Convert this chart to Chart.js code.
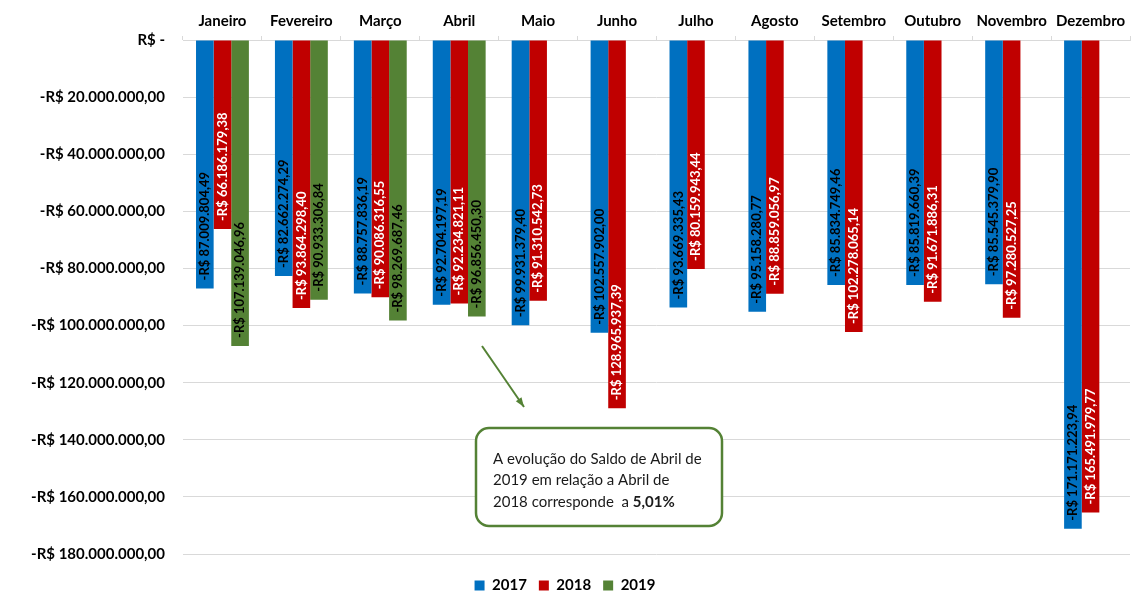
<!DOCTYPE html>
<html>
<head>
<meta charset="utf-8">
<script src="https://cdn.jsdelivr.net/npm/chart.js@4"></script>
<style>
  html, body { margin: 0; padding: 0; background: #fff; }
  #wrap { width: 1134px; height: 595px; }
</style>
</head>
<body>
<div id="wrap"><canvas id="chart" width="1134" height="595"></canvas></div>
<script>
const meses = ['Janeiro', 'Fevereiro', 'Março', 'Abril', 'Maio', 'Junho', 'Julho', 'Agosto', 'Setembro', 'Outubro', 'Novembro', 'Dezembro'];
const saldo2017 = [-87009804.49, -82662274.29, -88757836.19, -92704197.19, -99931379.40, -102557902.00, -93669335.43, -95158280.77, -85834749.46, -85819660.39, -85545379.90, -171171223.94];
const saldo2018 = [-66186179.38, -93864298.40, -90086316.55, -92234821.11, -91310542.73, -128965937.39, -80159943.44, -88859056.97, -102278065.14, -91671886.31, -97280527.25, -165491979.77];
const saldo2019 = [-107139046.96, -90933306.84, -98269687.46, -96856450.30, null, null, null, null, null, null, null, null];
const anos = ['2017', '2018', '2019'];
const cores = ['#0070C0', '#C00000', '#548235'];
const coresTexto = ['#000000', '#ffffff', '#000000'];
const notaLinhas = ['A evolução do Saldo de Abril de', '2019 em relação a Abril de', '2018 corresponde  a '];
const notaDestaque = '5,01%';

const fonte = 'Lato, "Open Sans", sans-serif';

function formatarReal(v) {
  if (v === 0) return 'R$ -';
  const abs = Math.abs(v);
  const partes = abs.toFixed(2).split('.');
  const inteiro = partes[0].replace(/\B(?=(\d{3})+(?!\d))/g, '.');
  return (v < 0 ? '-' : '') + 'R$ ' + inteiro + ',' + partes[1];
}

// rotulos de valor dentro das barras, lidos de baixo para cima
const pluginRotulos = {
  id: 'rotulos',
  afterDatasetsDraw(chart) {
    const ctx = chart.ctx;
    ctx.save();
    ctx.font = `bold 13px ${fonte}`;
    ctx.textBaseline = 'middle';
    ctx.textAlign = 'left';
    chart.data.datasets.forEach((ds, i) => {
      const meta = chart.getDatasetMeta(i);
      meta.data.forEach((bar, j) => {
        const v = ds.data[j];
        if (v === null) return;
        ctx.save();
        ctx.fillStyle = coresTexto[i];
        ctx.translate(bar.x, bar.y - 8);
        ctx.rotate(-Math.PI / 2);
        ctx.fillText(formatarReal(v), 0, 0);
        ctx.restore();
      });
    });
    ctx.restore();
  }
};

// seta e caixa de comentario; a legenda desce um pouco como no original
const pluginNota = {
  id: 'nota',
  beforeDraw(chart) {
    if (!chart.legend._desceu) {
      chart.legend.top += 12;
      chart.legend.bottom += 12;
      chart.legend._desceu = true;
    }
  },
  afterDraw(chart) {
    const ctx = chart.ctx;
    ctx.save();

    ctx.strokeStyle = '#548235';
    ctx.fillStyle = '#548235';
    ctx.lineWidth = 2;
    const x1 = 482, y1 = 346, x2 = 524, y2 = 407;
    ctx.beginPath();
    ctx.moveTo(x1, y1);
    ctx.lineTo(x2, y2);
    ctx.stroke();
    const ang = Math.atan2(y2 - y1, x2 - x1);
    ctx.beginPath();
    ctx.moveTo(x2, y2);
    ctx.lineTo(x2 - 10 * Math.cos(ang - 0.35), y2 - 10 * Math.sin(ang - 0.35));
    ctx.lineTo(x2 - 10 * Math.cos(ang + 0.35), y2 - 10 * Math.sin(ang + 0.35));
    ctx.closePath();
    ctx.fill();

    ctx.lineWidth = 2.5;
    ctx.fillStyle = '#ffffff';
    ctx.beginPath();
    ctx.roundRect(476, 428, 246, 98, 13);
    ctx.fill();
    ctx.stroke();

    ctx.fillStyle = '#1a1a1a';
    ctx.textBaseline = 'middle';
    ctx.textAlign = 'left';
    ctx.font = `15px ${fonte}`;
    notaLinhas.forEach((linha, i) => {
      ctx.fillText(linha, 493, 459 + i * 21.5);
    });
    const w = ctx.measureText(notaLinhas[2]).width;
    ctx.font = `bold 15px ${fonte}`;
    ctx.fillText(notaDestaque, 493 + w, 459 + 2 * 21.5);

    ctx.restore();
  }
};

const series = [saldo2017, saldo2018, saldo2019];

new Chart(document.getElementById('chart'), {
  type: 'bar',
  data: {
    labels: meses,
    datasets: anos.map((ano, i) => ({
      label: ano,
      data: series[i],
      backgroundColor: cores[i],
      borderWidth: 0,
      categoryPercentage: 0.67,
      barPercentage: 1.0,
    })),
  },
  options: {
    responsive: false,
    animation: false,
    layout: {
      padding: { left: 0, right: 4, top: 0, bottom: 4 },
    },
    scales: {
      x: {
        position: 'top',
        offset: true,
        grid: {
          offset: true,
          drawOnChartArea: false,
          drawTicks: true,
          tickLength: 4,
          color: '#d9d9d9',
        },
        border: { display: true, color: '#d9d9d9' },
        ticks: {
          autoSkip: false,
          maxRotation: 0,
          minRotation: 0,
          color: '#000',
          padding: 6,
          font: { family: fonte, size: 15, weight: 'bold' },
        },
        afterFit(scale) { scale.height = 40; },
      },
      y: {
        min: -180000000,
        max: 0,
        grid: { color: '#d9d9d9', drawTicks: false },
        border: { display: false },
        ticks: {
          stepSize: 20000000,
          padding: 18,
          color: '#000',
          font: { family: fonte, size: 15, weight: 'bold' },
          callback: (v) => formatarReal(v),
        },
        afterFit(scale) { scale.width = 183; },
      },
    },
    plugins: {
      legend: {
        position: 'bottom',
        labels: {
          boxWidth: 10,
          boxHeight: 10,
          padding: 12,
          color: '#000',
          font: { family: fonte, size: 15, weight: 'bold' },
        },
      },
      tooltip: { enabled: false },
    },
  },
  plugins: [pluginRotulos, pluginNota],
});
</script>
</body>
</html>
